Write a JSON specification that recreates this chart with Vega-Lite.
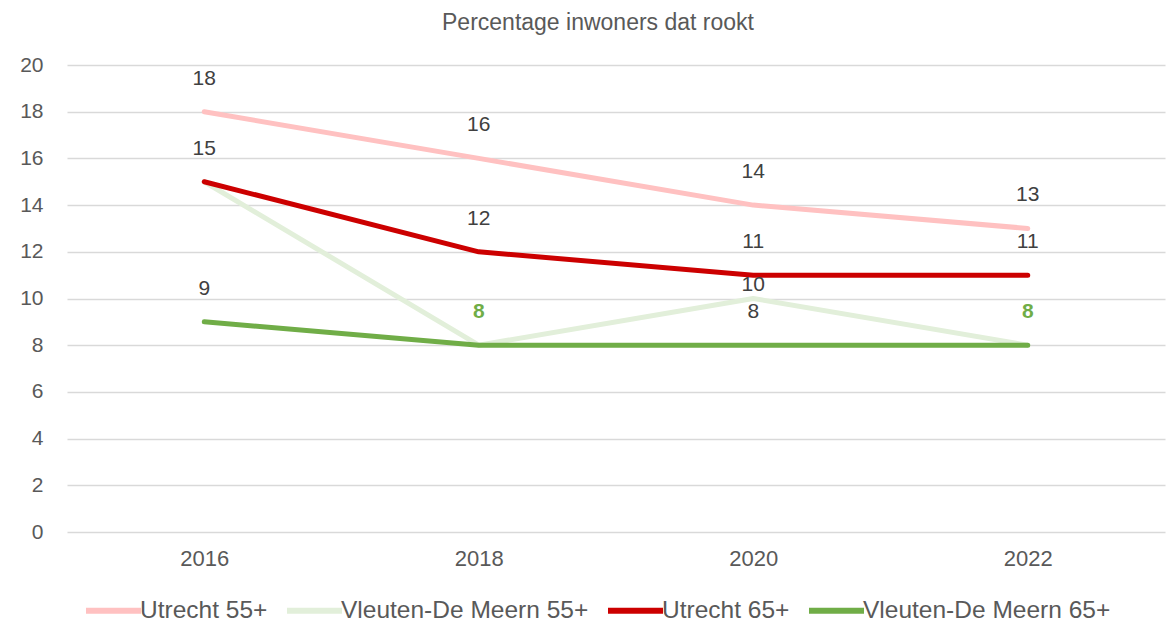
{
  "$schema": "https://vega.github.io/schema/vega-lite/v6.json",
  "width": 1098,
  "height": 467,
  "autosize": {"type": "none"},
  "padding": {"left": 67, "top": 65, "right": 8, "bottom": 92},
  "background": "white",
  "title": {
    "text": "Percentage inwoners dat rookt",
    "font": "Liberation Sans",
    "fontSize": 23,
    "fontWeight": "normal",
    "color": "#595959",
    "anchor": "middle",
    "dx": -18,
    "offset": 19
  },
  "data": {
    "values": [
      {"series": "Utrecht 55+", "year": "2016", "value": 18},
      {"series": "Utrecht 55+", "year": "2018", "value": 16},
      {"series": "Utrecht 55+", "year": "2020", "value": 14},
      {"series": "Utrecht 55+", "year": "2022", "value": 13},
      {"series": "Vleuten-De Meern 55+", "year": "2016", "value": 15},
      {"series": "Vleuten-De Meern 55+", "year": "2018", "value": 8},
      {"series": "Vleuten-De Meern 55+", "year": "2020", "value": 10},
      {"series": "Vleuten-De Meern 55+", "year": "2022", "value": 8},
      {"series": "Utrecht 65+", "year": "2016", "value": 15},
      {"series": "Utrecht 65+", "year": "2018", "value": 12},
      {"series": "Utrecht 65+", "year": "2020", "value": 11},
      {"series": "Utrecht 65+", "year": "2022", "value": 11},
      {"series": "Vleuten-De Meern 65+", "year": "2016", "value": 9},
      {"series": "Vleuten-De Meern 65+", "year": "2018", "value": 8},
      {"series": "Vleuten-De Meern 65+", "year": "2020", "value": 8},
      {"series": "Vleuten-De Meern 65+", "year": "2022", "value": 8}
    ]
  },
  "encoding": {
    "x": {
      "field": "year",
      "type": "ordinal",
      "scale": {"type": "point", "padding": 0.5},
      "axis": {
        "title": null,
        "labelAngle": 0,
        "labelFont": "Liberation Sans",
        "labelFontSize": 22,
        "labelColor": "#595959",
        "labelPadding": 16,
        "domain": false,
        "ticks": false,
        "grid": false
      }
    },
    "y": {
      "field": "value",
      "type": "quantitative",
      "scale": {"domain": [0, 20], "nice": false},
      "axis": {
        "title": null,
        "values": [0, 2, 4, 6, 8, 10, 12, 14, 16, 18, 20],
        "labelFont": "Liberation Sans",
        "labelFontSize": 21,
        "labelColor": "#595959",
        "labelPadding": 24,
        "domain": false,
        "ticks": false,
        "grid": true,
        "gridColor": "#d9d9d9",
        "gridWidth": 1.5
      }
    }
  },
  "layer": [
    {
      "mark": {"type": "line", "strokeWidth": 5, "strokeCap": "round", "strokeJoin": "round"},
      "encoding": {
        "color": {
          "field": "series",
          "type": "nominal",
          "sort": ["Utrecht 55+", "Vleuten-De Meern 55+", "Utrecht 65+", "Vleuten-De Meern 65+"],
          "scale": {
            "domain": ["Utrecht 55+", "Vleuten-De Meern 55+", "Utrecht 65+", "Vleuten-De Meern 65+"],
            "range": ["#FFC1C1", "#E2EFDA", "#CC0000", "#70AD47"]
          },
          "legend": {
            "title": null,
            "orient": "none",
            "legendX": 16,
            "legendY": 515,
            "direction": "horizontal",
            "symbolType": "stroke",
            "symbolStrokeWidth": 6,
            "symbolSize": 3025,
            "labelFont": "Liberation Sans",
            "labelFontSize": 24.5,
            "labelColor": "#595959",
            "labelLimit": 0,
            "labelOffset": -4,
            "columnPadding": 7
          }
        }
      }
    },
    {
      "transform": [
        {"filter": "datum.series !== 'Vleuten-De Meern 55+' && !(datum.series === 'Vleuten-De Meern 65+' && (datum.year === '2018' || datum.year === '2022'))"}
      ],
      "mark": {"type": "text", "dy": -33, "font": "Liberation Sans", "fontSize": 21, "color": "#404040", "baseline": "middle"},
      "encoding": {"text": {"field": "value", "type": "quantitative"}}
    },
    {
      "transform": [
        {"filter": "datum.series === 'Vleuten-De Meern 65+' && (datum.year === '2018' || datum.year === '2022')"}
      ],
      "mark": {"type": "text", "dy": -33, "font": "Liberation Sans", "fontSize": 21, "fontWeight": "bold", "color": "#70AD47", "baseline": "middle"},
      "encoding": {"text": {"field": "value", "type": "quantitative"}}
    },
    {
      "transform": [
        {"filter": "datum.series === 'Vleuten-De Meern 55+' && datum.year === '2020'"}
      ],
      "mark": {"type": "text", "dy": -14, "font": "Liberation Sans", "fontSize": 21, "color": "#404040", "baseline": "middle"},
      "encoding": {"text": {"field": "value", "type": "quantitative"}}
    }
  ],
  "config": {
    "view": {"stroke": null}
  }
}
